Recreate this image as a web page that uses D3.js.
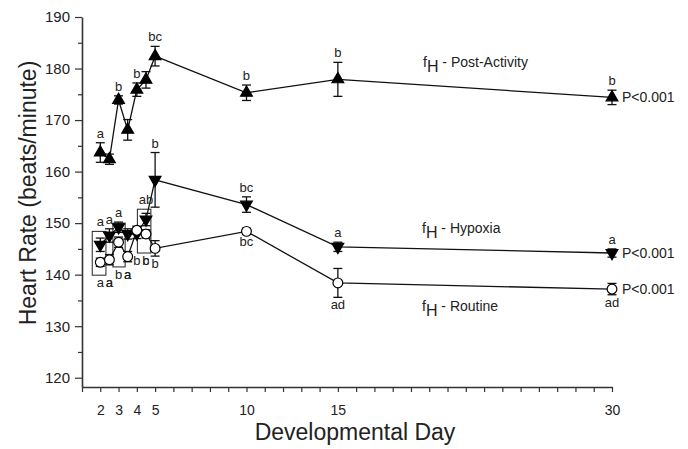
<!DOCTYPE html>
<html>
<head>
<meta charset="utf-8">
<script src="https://cdn.jsdelivr.net/npm/d3@7"></script>
<style>
  body { margin: 0; background: #fff; }
  svg { font-family: "Liberation Sans", Arial, sans-serif; }
</style>
</head>
<body>
<div id="chart"></div>
<script>
// sampling days (half-day steps early on)
var days = [2, 2.5, 3, 3.5, 4, 4.5, 5, 10, 15, 30];

// fH post-activity
var postMean = [163.7, 162.4, 173.9, 168.1, 175.9, 177.8, 182.4, 175.3, 177.9, 174.4];
var postSE   = [1.9, 1.0, 0.8, 2.0, 1.3, 1.6, 1.9, 1.5, 3.3, 1.4];
var postLetters = ["a", "a", "b", "a", "b", "b", "bc", "b", "b", "b"];
var postSide = ["above", "below", "above", "below", "above", "below", "above", "above", "above", "above"];

// fH hypoxia
var hypMean = [145.8, 147.6, 149.2, 147.9, 148.0, 150.7, 158.4, 153.6, 145.4, 144.2];
var hypSE   = [1.3, 1.3, 1.0, 1.0, 1.0, 1.2, 5.3, 1.5, 0.9, 0.8];
var hypLetters = ["a", "a", "a", "", "", "ab", "b", "bc", "a", "a"];

// fH routine
var rouMean = [142.4, 142.9, 146.3, 143.5, 148.6, 147.9, 145.1, 148.4, 138.4, 137.2];
var rouSE   = [0.8, 1.0, 1.0, 1.0, 0.8, 0.8, 1.5, 0.6, 2.8, 1.1];
var rouLetters = ["a", "a", "b", "a", "b", "c", "b", "bc", "ad", "ad"];

// grouping boxes: [dayFrom, dayTo, low, high]
var boxes = [
  [1.56, 2.31, 139.9, 148.4],
  [2.69, 3.36, 141.5, 150.0],
  [4.03, 4.77, 144.2, 152.7]
];

var xTickLabels = [2, 3, 4, 5, 10, 15, 30];
var yMajor = [120, 130, 140, 150, 160, 170, 180, 190];
var yMinor = [125, 135, 145, 155, 165, 175, 185];

var width = 688, height = 449;

var svg = d3.select("#chart").append("svg")
  .attr("width", width)
  .attr("height", height);

var x = d3.scaleLinear().domain([1, 30]).range([82, 612]);
var y = d3.scaleLinear().domain([118.2, 190]).range([387, 17]);

var axisColor = "#333";

// y axis
var yAx = svg.append("g")
  .attr("transform", "translate(82,0)")
  .call(d3.axisLeft(y).tickValues(yMajor).tickSize(7).tickSizeOuter(0).tickPadding(5));
yAx.selectAll("text").attr("font-size", 15).attr("fill", "#222").attr("font-family", "Liberation Sans, Arial, sans-serif");
svg.append("g")
  .attr("transform", "translate(82,0)")
  .call(d3.axisLeft(y).tickValues(yMinor).tickSize(4).tickFormat(""))
  .select(".domain").remove();

// x axis
var xAx = svg.append("g")
  .attr("transform", "translate(0,387)")
  .call(d3.axisBottom(x).tickValues(d3.range(1, 31)).tickSize(5).tickSizeOuter(0).tickPadding(13)
    .tickFormat(function(d) { return xTickLabels.indexOf(d) >= 0 ? d : ""; }));
xAx.selectAll("text").attr("font-size", 14).attr("fill", "#222").attr("font-family", "Liberation Sans, Arial, sans-serif");

svg.selectAll(".domain").attr("stroke", axisColor).attr("stroke-width", 1.6);
svg.selectAll(".tick line").attr("stroke", axisColor).attr("stroke-width", 1.2);

// axis titles
svg.append("text")
  .attr("x", 355).attr("y", 440)
  .attr("text-anchor", "middle")
  .attr("font-size", 23).attr("fill", "#222")
  .text("Developmental Day");

svg.append("text")
  .attr("transform", "translate(36,193) rotate(-90)")
  .attr("text-anchor", "middle")
  .attr("font-size", 23).attr("fill", "#222")
  .text("Heart Rate (beats/minute)");

// boxes
svg.append("g").selectAll("rect")
  .data(boxes)
  .enter().append("rect")
    .attr("x", function(d) { return x(d[0]); })
    .attr("width", function(d) { return x(d[1]) - x(d[0]); })
    .attr("y", function(d) { return y(d[3]); })
    .attr("height", function(d) { return y(d[2]) - y(d[3]); })
    .attr("fill", "none")
    .attr("stroke", "#222")
    .attr("stroke-width", 1);

function boxFor(day) {
  for (var i = 0; i < boxes.length; i++) {
    if (day >= boxes[i][0] - 0.2 && day <= boxes[i][1] + 0.2) return boxes[i];
  }
  return null;
}

function makeSeries(mean, se, letters, side) {
  return days.map(function(d, i) {
    return { day: d, mean: mean[i], se: se[i], letter: letters[i],
             side: typeof side === "string" ? side : side[i] };
  });
}

var series = [
  { key: "post", symbol: d3.symbolTriangle, rot: 0, fill: "#000", data: makeSeries(postMean, postSE, postLetters, postSide) },
  { key: "hyp", symbol: d3.symbolTriangle, rot: 180, fill: "#000", data: makeSeries(hypMean, hypSE, hypLetters, "above") },
  { key: "rou", symbol: d3.symbolCircle, rot: 0, fill: "#fff", data: makeSeries(rouMean, rouSE, rouLetters, "below") }
];

var line = d3.line()
  .x(function(d) { return x(d.day); })
  .y(function(d) { return y(d.mean); });

series.forEach(function(s) {
  var g = svg.append("g");

  g.append("path")
    .datum(s.data)
    .attr("d", line)
    .attr("fill", "none")
    .attr("stroke", "#111")
    .attr("stroke-width", 1.3);

  var eb = g.selectAll(".eb")
    .data(s.data)
    .enter().append("g");
  eb.append("line")
    .attr("x1", function(d) { return x(d.day); })
    .attr("x2", function(d) { return x(d.day); })
    .attr("y1", function(d) { return y(d.mean + d.se); })
    .attr("y2", function(d) { return y(d.mean - d.se); });
  eb.append("line")
    .attr("x1", function(d) { return x(d.day) - 4.5; })
    .attr("x2", function(d) { return x(d.day) + 4.5; })
    .attr("y1", function(d) { return y(d.mean + d.se); })
    .attr("y2", function(d) { return y(d.mean + d.se); });
  eb.append("line")
    .attr("x1", function(d) { return x(d.day) - 4.5; })
    .attr("x2", function(d) { return x(d.day) + 4.5; })
    .attr("y1", function(d) { return y(d.mean - d.se); })
    .attr("y2", function(d) { return y(d.mean - d.se); });
  eb.selectAll("line").attr("stroke", "#111").attr("stroke-width", 1.3);

  g.selectAll(".pt")
    .data(s.data)
    .enter().append("path")
      .attr("d", d3.symbol().type(s.symbol).size(s.symbol === d3.symbolCircle ? 75 : 60))
      .attr("transform", function(d) {
        return "translate(" + x(d.day) + "," + y(d.mean) + ") rotate(" + s.rot + ")";
      })
      .attr("fill", s.fill)
      .attr("stroke", "#000")
      .attr("stroke-width", 1.2);

  // significance letters
  g.selectAll(".lt")
    .data(s.data.filter(function(d) { return d.letter; }))
    .enter().append("text")
      .attr("x", function(d) { return x(d.day); })
      .attr("y", function(d) {
        var b = d.day < 6 ? boxFor(d.day) : null;
        if (d.side === "above") {
          var top = y(d.mean + d.se);
          if (b) top = Math.min(top, y(b[3]));
          return top - 5;
        }
        var bot = y(d.mean - d.se);
        if (b) bot = Math.max(bot, y(b[2]));
        return bot + 12;
      })
      .attr("text-anchor", "middle")
      .attr("font-size", 13)
      .attr("fill", "#222")
      .text(function(d) { return d.letter; });

  // P value at the end
  var last = s.data[s.data.length - 1];
  g.append("text")
    .attr("x", x(last.day) + 10)
    .attr("y", y(last.mean))
    .attr("dy", "0.36em")
    .attr("font-size", 14)
    .attr("fill", "#222")
    .text("P<0.001");
});

// series names
var names = [
  { text: " - Post-Activity", x: 423, y: 67 },
  { text: " - Hypoxia", x: 422, y: 233 },
  { text: " - Routine", x: 422, y: 311 }
];
names.forEach(function(n) {
  var t = svg.append("text")
    .attr("x", n.x).attr("y", n.y)
    .attr("font-size", 14).attr("fill", "#222");
  t.append("tspan").text("f");
  t.append("tspan").attr("dy", 5).attr("font-size", 16).text("H");
  t.append("tspan").attr("dy", -5).text(n.text);
});
</script>
</body>
</html>
